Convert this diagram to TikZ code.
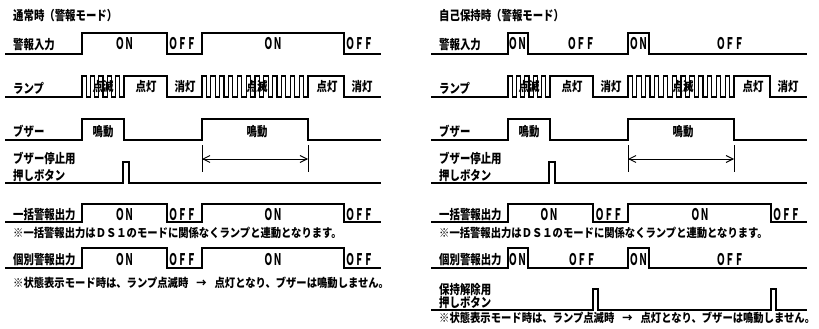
\documentclass[tikz,border=0pt]{standalone}
\usepackage{fontspec}
\setmainfont{Noto Sans CJK JP}
\newfontfamily\jpl{Noto Sans CJK JP}[FakeStretch=0.8]
\newfontfamily\jpn{Noto Sans CJK JP}[FakeStretch=0.86]
\newfontfamily\jpo{Noto Sans CJK JP}[FakeStretch=0.57]
\usetikzlibrary{arrows.meta}
\begin{document}
\begin{tikzpicture}[x=1pt,y=-1pt,
  wave/.style={line width=1.2pt,line join=miter},
  dim/.style={line width=0.9pt},
  lbl/.style={inner sep=0pt,anchor=base west,font=\jpl\bfseries\fontsize{13}{13}\selectfont},
  wlbl/.style={inner sep=0pt,anchor=base,font=\jpl\bfseries\fontsize{13}{13}\selectfont},
  note/.style={inner sep=0pt,anchor=base west,font=\jpn\bfseries\fontsize{12}{12}\selectfont},
  onoff/.style={inner sep=0pt,anchor=base,font=\jpo\bfseries\fontsize{16}{16}\selectfont},
  offw/.style={onoff,anchor=base west},
  barb/.tip={Straight Barb[length=7pt,width=7pt,line width=0.9pt]}
]
\useasboundingbox (0,0) rectangle (819,329);

% ================= LEFT PANEL =================
\node[lbl] (Lt) at (13,21) {通常時（警報モード）};
% row 1
\node[lbl] (Ll1) at (13,50) {警報入力};
\draw[wave] (5,54) -- (82,54) -- (82,33) -- (167,33) -- (167,54) -- (202,54) -- (202,33) -- (344,33) -- (344,54) -- (381,54);
\node[onoff] (La1) at (124.5,50) {ＯＮ};
\node[offw]  (La2) at (168.5,50) {ＯＦＦ};
\node[onoff] (La3) at (273,50) {ＯＮ};
\node[offw]  (La4) at (345.5,50) {ＯＦＦ};
% row 2 lamp
\node[lbl] (Ll2) at (13,93) {ランプ};
\draw[wave] (5,97) -- (82,97)
  \foreach \i in {1,...,5}{ -- ++(0,-21) -- ++(4.2,0) -- ++(0,21) -- ++(4.2,0)}
  -- ++(0,-21) -- (167,76) -- (167,97) -- (202,97)
  \foreach \i in {1,...,12}{ -- ++(0,-21) -- ++(4.4,0) -- ++(0,21) -- ++(4.43,0)}
  -- ++(0,-21) -- (344,76) -- (344,97) -- (381,97);
\node[wlbl] (Lb1) at (103,92) {点滅};
\node[wlbl] (Lb2) at (146,92) {点灯};
\node[wlbl] (Lb3) at (185,92) {消灯};
\node[wlbl] (Lb4) at (257,92) {点滅};
\node[wlbl] (Lb5) at (327,92) {点灯};
\node[wlbl] (Lb6) at (362,92) {消灯};
% row 3 buzzer
\node[lbl] (Ll3) at (13,136) {ブザー};
\draw[wave] (5,140) -- (82,140) -- (82,119) -- (124,119) -- (124,140) -- (202,140) -- (202,119) -- (308,119) -- (308,140) -- (381,140);
\node[wlbl] (Lc1) at (103,136) {鳴動};
\node[wlbl] (Lc2) at (257,136) {鳴動};
\coordinate (Ld1) at (202,145); \coordinate (Ld2) at (202,172);
\coordinate (Ld3) at (308,145); \coordinate (Ld4) at (308,172);
\coordinate (Ld5) at (202,159); \coordinate (Ld6) at (308,159);
\draw[dim] (Ld1) -- (Ld2);
\draw[dim] (Ld3) -- (Ld4);
\draw[dim,barb-barb] (Ld5) -- (Ld6);
% row 4 buzzer stop
\node[lbl] (Ll4a) at (13,163.5) {ブザー停止用};
\node[lbl] (Ll4b) at (13,180) {押しボタン};
\draw[wave] (5,183) -- (123,183) -- (123,162) -- (129,162) -- (129,183) -- (381,183);
% row 5
\node[lbl] (Ll5) at (13,219) {一括警報出力};
\draw[wave] (5,222) -- (82,222) -- (82,204) -- (167,204) -- (167,222) -- (202,222) -- (202,204) -- (344,204) -- (344,222) -- (381,222);
\node[onoff] (Le1) at (124.5,220.5) {ＯＮ};
\node[offw]  (Le2) at (168.5,220.5) {ＯＦＦ};
\node[onoff] (Le3) at (273,220.5) {ＯＮ};
\node[offw]  (Le4) at (345.5,220.5) {ＯＦＦ};
\node[note] (Ln1) at (13,237.5) {※一括警報出力はＤＳ１のモードに関係なくランプと連動となります。};
% row 6
\node[lbl] (Ll6) at (13,264.5) {個別警報出力};
\draw[wave] (5,268) -- (82,268) -- (82,248) -- (167,248) -- (167,268) -- (202,268) -- (202,248) -- (344,248) -- (344,268) -- (381,268);
\node[onoff] (Lf1) at (124.5,265) {ＯＮ};
\node[offw]  (Lf2) at (168.5,265) {ＯＦＦ};
\node[onoff] (Lf3) at (273,265) {ＯＮ};
\node[offw]  (Lf4) at (345.5,265) {ＯＦＦ};
\node[note] (Ln2) at (13,287.5) {※状態表示モード時は、ランプ点滅時\hspace{8pt}→\hspace{8pt}点灯となり、ブザーは鳴動しません。};

% ================= RIGHT PANEL =================
\begin{scope}[xshift=426pt]
\node[lbl] (Rt) at (13,21) {自己保持時（警報モード）};
% row 1
\node[lbl] (Rl1) at (13,50) {警報入力};
\draw[wave] (5,54) -- (82,54) -- (82,33) -- (102,33) -- (102,54) -- (202,54) -- (202,33) -- (223,33) -- (223,54) -- (381,54);
\node[onoff] (Ra1) at (91.5,50) {ＯＮ};
\node[onoff] (Ra2) at (155,50) {ＯＦＦ};
\node[onoff] (Ra3) at (212.5,50) {ＯＮ};
\node[onoff] (Ra4) at (304,50) {ＯＦＦ};
% row 2 lamp
\node[lbl] (Rl2) at (13,93) {ランプ};
\draw[wave] (5,97) -- (82,97)
  \foreach \i in {1,...,5}{ -- ++(0,-21) -- ++(4.2,0) -- ++(0,21) -- ++(4.2,0)}
  -- ++(0,-21) -- (167,76) -- (167,97) -- (202,97)
  \foreach \i in {1,...,12}{ -- ++(0,-21) -- ++(4.4,0) -- ++(0,21) -- ++(4.43,0)}
  -- ++(0,-21) -- (344,76) -- (344,97) -- (381,97);
\node[wlbl] (Rb1) at (103,92) {点滅};
\node[wlbl] (Rb2) at (146,92) {点灯};
\node[wlbl] (Rb3) at (185,92) {消灯};
\node[wlbl] (Rb4) at (257,92) {点滅};
\node[wlbl] (Rb5) at (327,92) {点灯};
\node[wlbl] (Rb6) at (362,92) {消灯};
% row 3 buzzer
\node[lbl] (Rl3) at (13,136) {ブザー};
\draw[wave] (5,140) -- (82,140) -- (82,119) -- (124,119) -- (124,140) -- (202,140) -- (202,119) -- (308,119) -- (308,140) -- (381,140);
\node[wlbl] (Rc1) at (103,136) {鳴動};
\node[wlbl] (Rc2) at (257,136) {鳴動};
\coordinate (Rd1) at (202,145); \coordinate (Rd2) at (202,172);
\coordinate (Rd3) at (308,145); \coordinate (Rd4) at (308,172);
\coordinate (Rd5) at (202,159); \coordinate (Rd6) at (308,159);
\draw[dim] (Rd1) -- (Rd2);
\draw[dim] (Rd3) -- (Rd4);
\draw[dim,barb-barb] (Rd5) -- (Rd6);
% row 4 buzzer stop
\node[lbl] (Rl4a) at (13,163.5) {ブザー停止用};
\node[lbl] (Rl4b) at (13,180) {押しボタン};
\draw[wave] (5,183) -- (123,183) -- (123,162) -- (129,162) -- (129,183) -- (381,183);
% row 5
\node[lbl] (Rl5) at (13,219) {一括警報出力};
\draw[wave] (5,222) -- (82,222) -- (82,204) -- (167,204) -- (167,222) -- (202,222) -- (202,204) -- (345,204) -- (345,222) -- (381,222);
\node[onoff] (Re1) at (123,220.5) {ＯＮ};
\node[offw]  (Re2) at (169,220.5) {ＯＦＦ};
\node[onoff] (Re3) at (274,220.5) {ＯＮ};
\node[offw]  (Re4) at (346.5,220.5) {ＯＦＦ};
\node[note] (Rn1) at (13,237.5) {※一括警報出力はＤＳ１のモードに関係なくランプと連動となります。};
% row 6
\node[lbl] (Rl6) at (13,264.5) {個別警報出力};
\draw[wave] (5,268) -- (82,268) -- (82,248) -- (102,248) -- (102,268) -- (202,268) -- (202,248) -- (223,248) -- (223,268) -- (381,268);
\node[onoff] (Rf1) at (91.5,265) {ＯＮ};
\node[onoff] (Rf2) at (156,265) {ＯＦＦ};
\node[onoff] (Rf3) at (212.5,265) {ＯＮ};
\node[onoff] (Rf4) at (304,265) {ＯＦＦ};
% row 7 hold release
\node[lbl] (Rl7a) at (13,294.5) {保持解除用};
\node[lbl] (Rl7b) at (13,307.5) {押しボタン};
\draw[wave] (5,310) -- (167,310) -- (167,289) -- (172,289) -- (172,310) -- (345,310) -- (345,289) -- (350,289) -- (350,310) -- (381,310);
\node[note] (Rn2) at (13,322.5) {※状態表示モード時は、ランプ点滅時\hspace{8pt}→\hspace{8pt}点灯となり、ブザーは鳴動しません。};
\end{scope}
\end{tikzpicture}
\end{document}
